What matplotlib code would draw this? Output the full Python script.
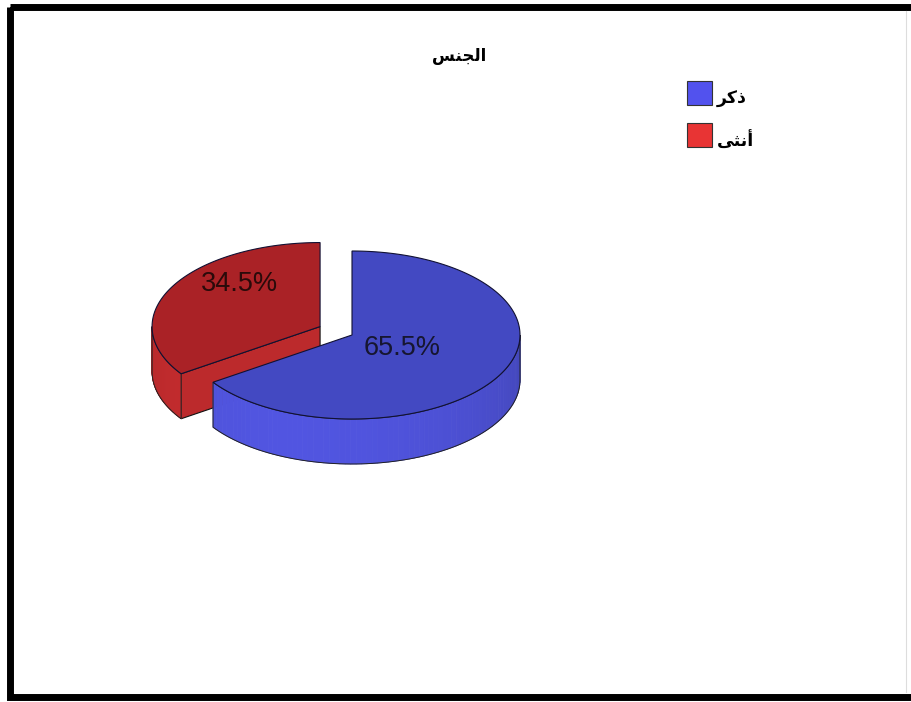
import numpy as np
import matplotlib.pyplot as plt
from matplotlib.patches import Polygon, Rectangle

# --- data ---
title = "الجنس"
labels = ["ذكر", "أنثى"]
values = [65.5, 34.5]
top_colors = ["#4349C2", "#AA2226"]
side_colors = ["#4D51D6", "#BC2A2C"]
legend_colors = ["#5252EE", "#E83434"]
explode = [0.0, 0.215]

# --- matplotlib has no Arabic shaping, so pick the joined glyph forms by hand ---
FORMS = {  # isolated, final, initial, medial
    "ا": ("\uFE8D", "\uFE8E", None, None),
    "أ": ("\uFE83", "\uFE84", None, None),
    "ذ": ("\uFEAB", "\uFEAC", None, None),
    "ر": ("\uFEAD", "\uFEAE", None, None),
    "ى": ("\uFEEF", "\uFEF0", None, None),
    "ل": ("\uFEDD", "\uFEDE", "\uFEDF", "\uFEE0"),
    "ج": ("\uFE9D", "\uFE9E", "\uFE9F", "\uFEA0"),
    "ن": ("\uFEE5", "\uFEE6", "\uFEE7", "\uFEE8"),
    "س": ("\uFEB1", "\uFEB2", "\uFEB3", "\uFEB4"),
    "ك": ("\uFED9", "\uFEDA", "\uFEDB", "\uFEDC"),
    "ث": ("\uFE99", "\uFE9A", "\uFE9B", "\uFE9C"),
}


def shape(word):
    out = []
    for i, ch in enumerate(word):
        f = FORMS[ch]
        prev = i > 0 and FORMS[word[i - 1]][2] is not None
        nxt = i < len(word) - 1 and f[2] is not None
        if prev and nxt:
            out.append(f[3])
        elif prev:
            out.append(f[1])
        elif nxt:
            out.append(f[2])
        else:
            out.append(f[0])
    return "".join(reversed(out))


# --- layout (pixel space) ---
W, H = 911, 702
cx, cy = 352, 335
rx, ry, depth = 168, 84, 45
label_uv = [(0.30, -0.16), (-0.48, 0.51)]

fig = plt.figure(figsize=(W / 100, H / 100), dpi=100)
ax = fig.add_axes([0, 0, 1, 1])
ax.set_xlim(0, W)
ax.set_ylim(H, 0)
ax.axis("off")


def pt(t, ox, oy, dz=0.0):
    return ox + rx * np.cos(t), oy - ry * np.sin(t) + dz


def shade(color, k):
    c = np.array(plt.matplotlib.colors.to_rgb(color))
    return np.clip(c * k, 0, 1)


# slice angles: start at 12 o'clock, go clockwise
total = sum(values)
slices = []
start = 90.0
for v in values:
    span = v / total * 360
    slices.append((start - span, start))
    start -= span

# draw the back slice (red) first
for i in reversed(range(len(values))):
    t0, t1 = slices[i]
    if i == 1:
        t0, t1 = t0 + 360, t1 + 360
    mid = np.radians((t0 + t1) / 2)
    ox = cx + explode[i] * rx * np.cos(mid)
    oy = cy - explode[i] * ry * np.sin(mid)
    a0, a1 = np.radians(t0), np.radians(t1)

    # radial cut faces
    for a, vis in ((a0, np.cos(a0) > 1e-6), (a1, np.cos(a1) < -1e-6)):
        if vis:
            x, y = pt(a, ox, oy)
            face = [(ox, oy), (x, y), (x, y + depth), (ox, oy + depth)]
            ax.add_patch(Polygon(face, closed=True, fc=side_colors[i],
                                 ec="#111111", lw=0.8, zorder=2))

    # outer wall, front half only
    lo_deg = max(t0, 180.0) if t0 >= 90 else max(t0, -180.0)
    hi_deg = min(t1, 360.0) if t0 >= 90 else min(t1, 0.0)
    if hi_deg > lo_deg:
        ts = np.radians(np.linspace(lo_deg, hi_deg, 80))
        for j in range(len(ts) - 1):
            tm = (ts[j] + ts[j + 1]) / 2
            k = 0.92 + 0.12 * (-np.sin(tm)) - 0.05 * np.cos(tm)
            xa, ya = pt(ts[j], ox, oy)
            xb, yb = pt(ts[j + 1], ox, oy)
            seg = [(xa, ya), (xb, yb), (xb, yb + depth), (xa, ya + depth)]
            ax.add_patch(Polygon(seg, closed=True, fc=shade(side_colors[i], k),
                                 ec=shade(side_colors[i], k), lw=0.6, zorder=3))
        xs, ys = pt(ts, ox, oy)
        outline = list(zip(xs, ys)) + list(zip(xs[::-1], ys[::-1] + depth))
        ax.add_patch(Polygon(outline, closed=True, fill=False,
                             ec="#222222", lw=0.7, zorder=4))

    # top face
    ts = np.radians(np.linspace(t0, t1, 200))
    xs, ys = pt(ts, ox, oy)
    top = [(ox, oy)] + list(zip(xs, ys))
    ax.add_patch(Polygon(top, closed=True, fc=top_colors[i],
                         ec="#111133", lw=0.8, zorder=5))

    u, v = label_uv[i]
    ax.text(ox + u * rx, oy - v * ry, f"{values[i]}%", ha="center", va="center",
            fontsize=19.5, family=["Liberation Sans", "DejaVu Sans"],
            color="#161630" if i == 0 else "#2A0A0A", zorder=6)

# title
ax.text(459, 56, shape(title), ha="center", va="center", fontsize=12,
        fontweight="bold", family="DejaVu Sans", color="black")

# legend
for i, lab in enumerate(labels):
    y = 81 + i * 42
    ax.add_patch(Rectangle((687, y), 25, 24, fc=legend_colors[i],
                           ec="#333333", lw=0.8))
    ax.text(717, y + 18, shape(lab), ha="left", va="center", fontsize=12.5,
            fontweight="bold", family="DejaVu Sans", color="black")

# frame
ax.add_patch(Rectangle((9.5, 6.5), 930, 690, fill=False, ec="black",
                       lw=5.0, clip_on=False))
ax.plot([906, 906], [11, 692], color="#dddddd", lw=0.8)

fig.savefig("out.png", dpi=100)
